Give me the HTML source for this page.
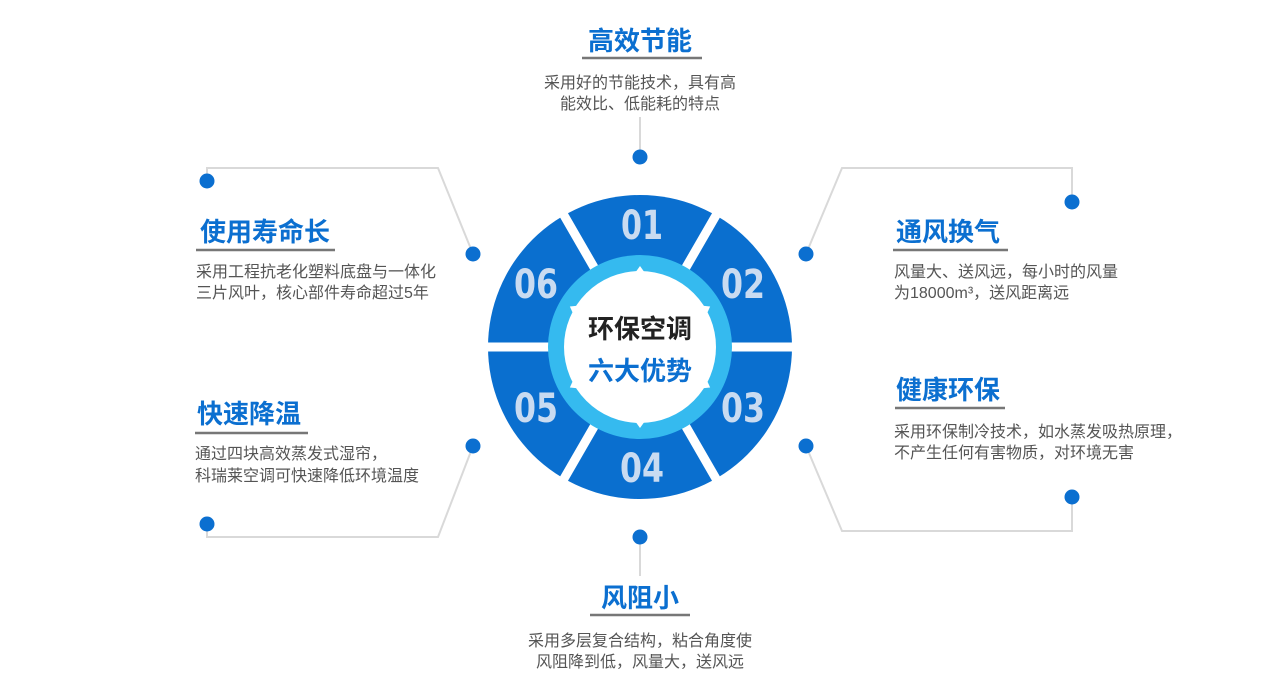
<!DOCTYPE html>
<html><head><meta charset="utf-8"><style>
html,body{margin:0;padding:0;background:#fff;}
svg{display:block}
.t{font-family:"Liberation Sans","Noto Sans CJK SC",sans-serif;}
.title{font-size:26px;font-weight:bold;fill:#0b6fd0;}
.txt{font-size:16px;fill:#555;}
.num{font-family:"DejaVu Sans","Liberation Sans",sans-serif;font-weight:bold;font-size:40px;fill:#c9dbf1;}
</style></head><body>
<svg width="1280" height="695" viewBox="0 0 1280 695" class="t">
<g stroke="#d9d9d9" stroke-width="2" fill="none">
<line x1="640" y1="117" x2="640" y2="152"/>
<line x1="640" y1="542" x2="640" y2="576"/>
<polyline points="207,181 207,168 438,168 473,254"/>
<polyline points="1072,202 1072,168 842,168 806,254"/>
<polyline points="207,524 207,537 438,537 473,446"/>
<polyline points="1072,497 1072,531 842,531 806,446"/>
</g>
<g fill="#0b6fd0">
<circle cx="640" cy="157" r="7.5"/><circle cx="640" cy="537" r="7.5"/>
<circle cx="207" cy="181" r="7.5"/><circle cx="473" cy="254" r="7.5"/>
<circle cx="1072" cy="202" r="7.5"/><circle cx="806" cy="254" r="7.5"/>
<circle cx="207" cy="524" r="7.5"/><circle cx="473" cy="446" r="7.5"/>
<circle cx="1072" cy="497" r="7.5"/><circle cx="806" cy="446" r="7.5"/>
</g>
<circle cx="640" cy="347" r="152" fill="#0a6fcf"/>
<g stroke="#fff" stroke-width="9">
<line x1="480" y1="347" x2="800" y2="347"/>
<line x1="560" y1="208.4" x2="720" y2="485.6"/>
<line x1="720" y1="208.4" x2="560" y2="485.6"/>
</g>
<circle cx="640" cy="347" r="92" fill="#35baef"/>
<circle cx="640" cy="347" r="76" fill="#fff"/>
<g fill="#fff">
<polygon points="635,273 645,273 640,266" transform="rotate(0 640 347)"/>
<polygon points="635,273 645,273 640,266" transform="rotate(60 640 347)"/>
<polygon points="635,273 645,273 640,266" transform="rotate(120 640 347)"/>
<polygon points="635,273 645,273 640,266" transform="rotate(180 640 347)"/>
<polygon points="635,273 645,273 640,266" transform="rotate(240 640 347)"/>
<polygon points="635,273 645,273 640,266" transform="rotate(300 640 347)"/>
</g>
<g class="num">
<text x="621" y="239" textLength="42" lengthAdjust="spacingAndGlyphs">01</text>
<text x="721" y="298" textLength="44" lengthAdjust="spacingAndGlyphs">02</text>
<text x="721" y="422" textLength="44" lengthAdjust="spacingAndGlyphs">03</text>
<text x="620" y="482" textLength="44" lengthAdjust="spacingAndGlyphs">04</text>
<text x="514" y="422" textLength="44" lengthAdjust="spacingAndGlyphs">05</text>
<text x="514" y="298" textLength="44" lengthAdjust="spacingAndGlyphs">06</text>
</g>
<text x="640" y="338" text-anchor="middle" style="font-size:26px;font-weight:bold;fill:#222">环保空调</text>
<text x="640" y="380" text-anchor="middle" style="font-size:26px;font-weight:bold;fill:#0b6fd0">六大优势</text>
<g stroke="#777" stroke-width="2.5">
<line x1="582" y1="58" x2="702" y2="58"/>
<line x1="196" y1="250" x2="335" y2="250"/>
<line x1="893" y1="250" x2="1008" y2="250"/>
<line x1="195" y1="433" x2="308" y2="433"/>
<line x1="895" y1="408" x2="1005" y2="408"/>
<line x1="590" y1="615" x2="690" y2="615"/>
</g>
<text class="title" x="640" y="50" text-anchor="middle">高效节能</text>
<text class="txt" x="640" y="88" text-anchor="middle">采用好的节能技术，具有高</text>
<text class="txt" x="640" y="109" text-anchor="middle">能效比、低能耗的特点</text>

<text class="title" x="200" y="241">使用寿命长</text>
<text class="txt" x="196" y="277">采用工程抗老化塑料底盘与一体化</text>
<text class="txt" x="196" y="298">三片风叶，核心部件寿命超过5年</text>

<text class="title" x="896" y="241">通风换气</text>
<text class="txt" x="894" y="277">风量大、送风远，每小时的风量</text>
<text class="txt" x="894" y="298">为18000m³，送风距离远</text>

<text class="title" x="197" y="423">快速降温</text>
<text class="txt" x="195" y="459">通过四块高效蒸发式湿帘，</text>
<text class="txt" x="195" y="481">科瑞莱空调可快速降低环境温度</text>

<text class="title" x="896" y="399">健康环保</text>
<text class="txt" x="894" y="437">采用环保制冷技术，如水蒸发吸热原理，</text>
<text class="txt" x="894" y="458">不产生任何有害物质，对环境无害</text>

<text class="title" x="640" y="607" text-anchor="middle">风阻小</text>
<text class="txt" x="640" y="646" text-anchor="middle">采用多层复合结构，粘合角度使</text>
<text class="txt" x="640" y="667" text-anchor="middle">风阻降到低，风量大，送风远</text>
</svg>
</body></html>
